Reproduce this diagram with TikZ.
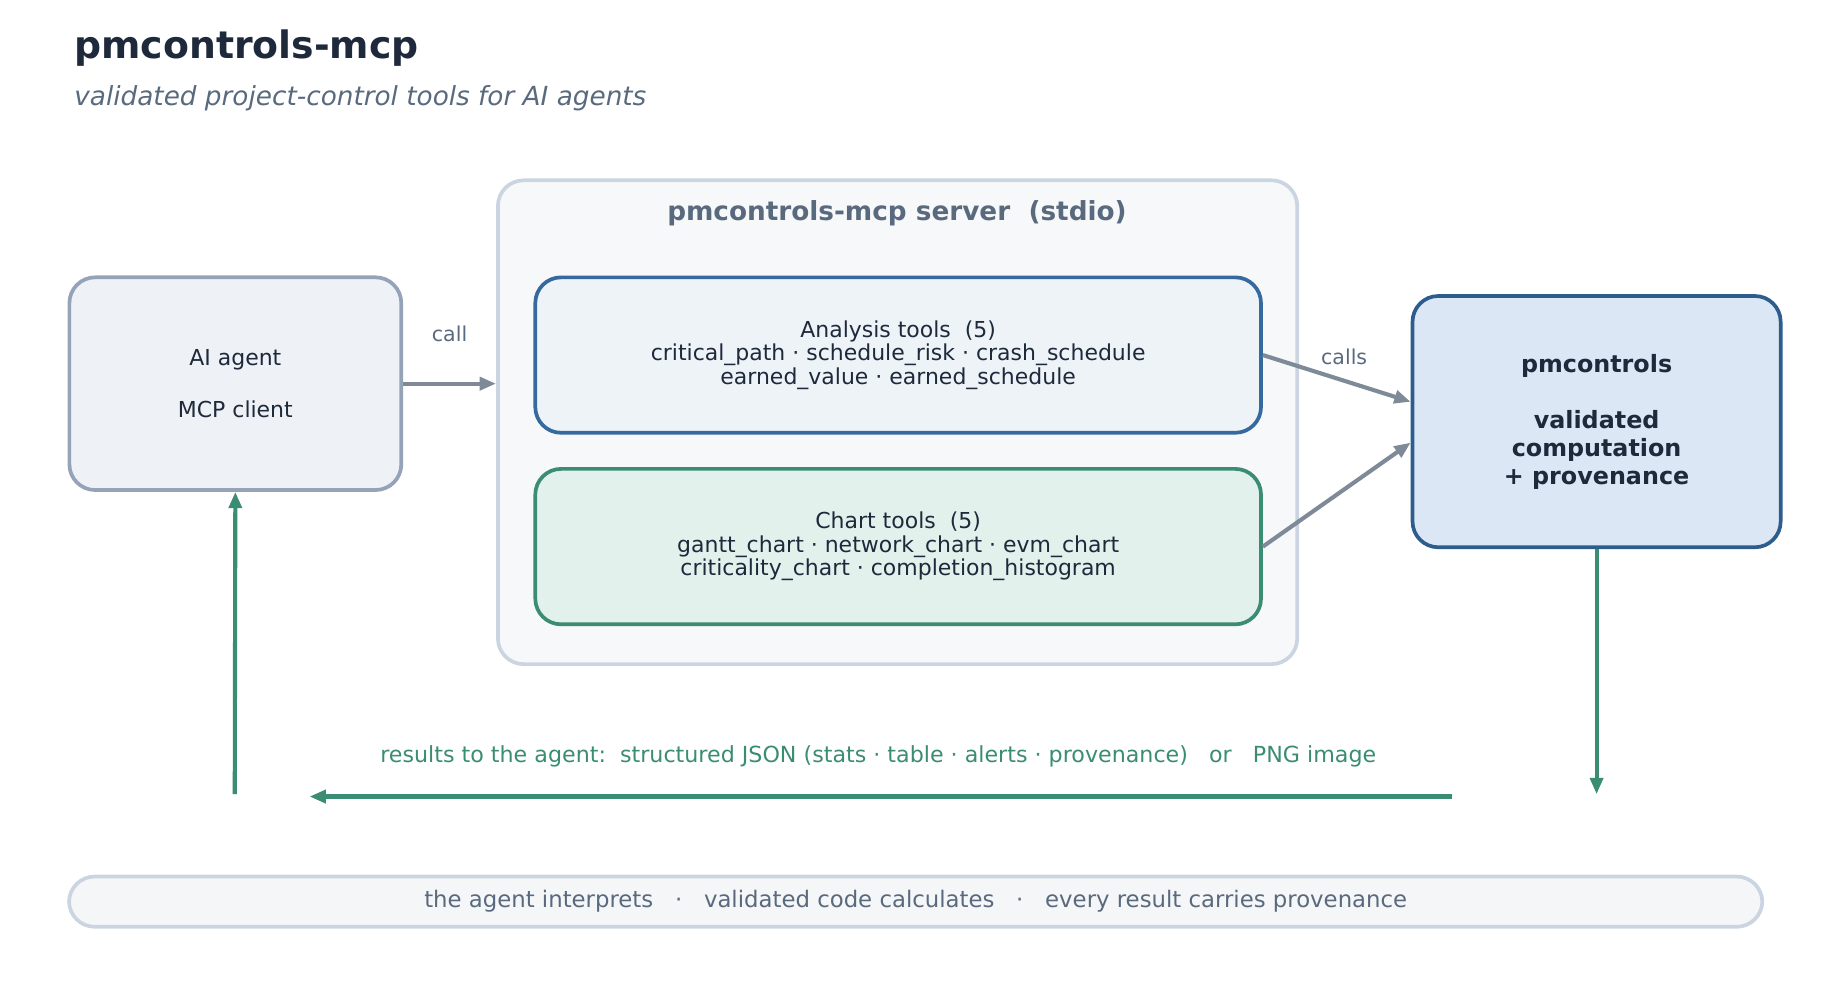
\documentclass[tikz,border=0pt]{standalone}
\usepackage{fontspec}
\setmainfont{DejaVu Sans}
\usetikzlibrary{arrows.meta}
\definecolor{ink}{HTML}{1E293B}
\definecolor{mute}{HTML}{5A6A7E}
\definecolor{edge}{HTML}{7F8A99}
\definecolor{teal}{HTML}{3A8C72}
\definecolor{navy}{HTML}{36699E}
\definecolor{deepnavy}{HTML}{2D5D8C}
\definecolor{rim}{HTML}{CBD5E1}
\definecolor{agentrim}{HTML}{94A3B8}
\definecolor{serverbg}{HTML}{F7F8FA}
\definecolor{analysisbg}{HTML}{EEF3F8}
\definecolor{chartbg}{HTML}{E2F1EC}
\definecolor{agentbg}{HTML}{EEF1F5}
\definecolor{enginebg}{HTML}{DCE7F5}
\definecolor{footerbg}{HTML}{F5F6F8}
\tikzset{
	box/.style={draw, rounded corners=2.2mm, line width=0.9pt, align=center, inner sep=0pt},
	link/.style={draw=edge, line width=1pt, -{Triangle[length=1.4mm,width=1.1mm]}},
	back/.style={draw=teal, line width=1pt, -{Triangle[length=1.4mm,width=1.1mm]}},
	lbl/.style={text=mute, font=\fontsize{5}{6}\selectfont},
	body/.style={font=\fontsize{5.35}{5.7}\selectfont, text=ink}
}
\begin{document}
\begin{tikzpicture}[x=0.01cm,y=-0.01cm]
\useasboundingbox (0,0) rectangle (1560,851);

%title
\node[anchor=base west, inner sep=0pt, text=ink, font=\fontsize{9.2}{11}\selectfont\bfseries] (title) at (63,50) {pmcontrols-mcp};
\node[anchor=west, inner sep=0pt, text=mute, font=\fontsize{6.4}{8}\selectfont\itshape] (sub) at (63,84) {validated project-control tools for AI agents};

%server
\node[box, draw=rim, fill=serverbg, minimum width=6.84cm, minimum height=4.14cm] (server) at (768.5,361.5) {};
\node[text=mute, font=\fontsize{6.4}{8}\selectfont\bfseries] (stitle) at (768,183) {pmcontrols-mcp server\ \ (stdio)};

%tools
\node[box, body, draw=navy, fill=analysisbg, minimum width=6.21cm, minimum height=1.33cm] (analysis) at (769,304)
	{Analysis tools\ \ (5)\\critical\_path · schedule\_risk · crash\_schedule\\earned\_value · earned\_schedule};
\node[box, body, draw=teal, fill=chartbg, minimum width=6.21cm, minimum height=1.33cm] (chart) at (769,468)
	{Chart tools\ \ (5)\\gantt\_chart · network\_chart · evm\_chart\\criticality\_chart · completion\_histogram};

%agent
\node[box, body, draw=agentrim, fill=agentbg, minimum width=2.84cm, minimum height=1.82cm,
	font=\fontsize{5.35}{12.8}\selectfont] (agent) at (201.5,328.5) {AI agent\\MCP client};

%engine
\node[box, draw=deepnavy, fill=enginebg, minimum width=3.15cm, minimum height=2.15cm, text=ink,
	font=\fontsize{5.8}{6.8}\selectfont\bfseries] (engine) at (1367,361) {pmcontrols\\[6.8pt]validated\\computation\\+ provenance};

%calls
\draw[link] (agent.east) -- node[lbl, above=2.2mm] {call} (server.west |- agent.east);
\draw[link] (analysis.east) -- node[lbl, above, pos=0.55] {calls} (engine.west |- 0,344);
\draw[link] (chart.east) -- (engine.west |- 0,379);

%results
\coordinate (rdown) at (1367,680);
\coordinate (rstart) at (1243,682);
\coordinate (rend) at (265,682);
\coordinate (rup) at (201,680);
\draw[back] (engine.south) -- (rdown);
\draw[back] (rstart) -- (rend);
\draw[back] (rup) -- (agent.south);
\node[text=teal, font=\fontsize{5.4}{6}\selectfont] (rlabel) at (752,648)
	{results to the agent:\ \ structured JSON (stats · table · alerts · provenance)\ \ \ or\ \ \ PNG image};

%footer
\node[box, draw=rim, fill=footerbg, minimum width=14.49cm, minimum height=0.43cm, text=mute,
	font=\fontsize{5.55}{6}\selectfont] (footer) at (784,772)
	{the agent interprets\ \ \ ·\ \ \ validated code calculates\ \ \ ·\ \ \ every result carries provenance};
\end{tikzpicture}
\end{document}
